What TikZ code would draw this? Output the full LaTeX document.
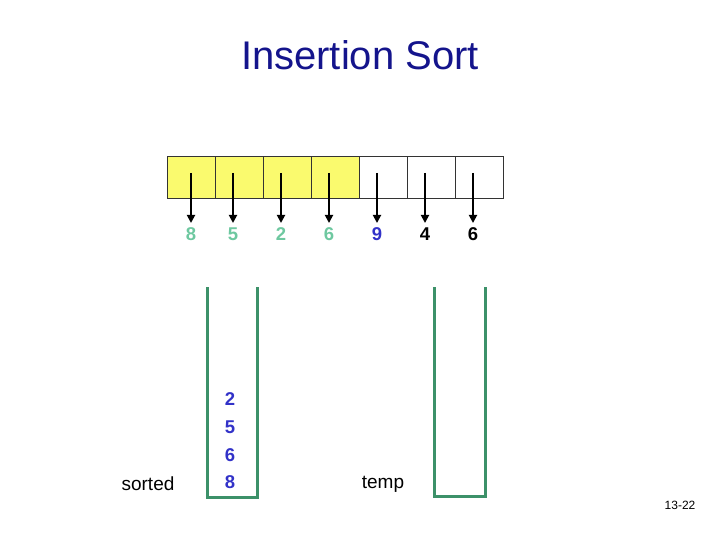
\documentclass[tikz,border=0pt]{standalone}
\usepackage{fontspec}
\setmainfont{Liberation Sans}
\usetikzlibrary{arrows.meta}
\definecolor{titleblue}{RGB}{20,20,140}
\definecolor{mint}{RGB}{110,200,160}
\definecolor{numblue}{RGB}{50,50,200}
\definecolor{stackgreen}{RGB}{60,145,105}
\definecolor{cellyellow}{RGB}{250,250,110}
\tikzset{
  cell/.style={draw=black!80, line width=0.8pt, minimum width=48pt, minimum height=42pt, inner sep=0pt, anchor=north west},
  ptr/.style={line width=1.8pt, -{Triangle[width=8pt,length=8pt]}},
  num/.style={font=\fontsize{18.5}{18.5}\selectfont\bfseries, inner sep=0pt},
  stackline/.style={draw=stackgreen, line width=3pt},
  lbl/.style={font=\fontsize{19}{19}\selectfont, inner sep=0pt}
}
\begin{document}
\begin{tikzpicture}[x=1pt,y=-1pt]
\useasboundingbox (0,0) rectangle (720,540);
\node[font=\fontsize{40}{40}\selectfont, text=titleblue, inner sep=0pt] (title) at (360,55) {Insertion Sort};
% cells
\node[cell, fill=cellyellow] (c1) at (167,156) {};
\node[cell, fill=cellyellow] (c2) at (215,156) {};
\node[cell, fill=cellyellow] (c3) at (263,156) {};
\node[cell, fill=cellyellow] (c4) at (311,156) {};
\node[cell, fill=white] (c5) at (359,156) {};
\node[cell, fill=white] (c6) at (407,156) {};
\node[cell, fill=white] (c7) at (455,156) {};
% numbers
\node[num, text=mint] (n1) at (191,234) {8};
\node[num, text=mint] (n2) at (233,234) {5};
\node[num, text=mint] (n3) at (281,234) {2};
\node[num, text=mint] (n4) at (329,234) {6};
\node[num, text=numblue] (n5) at (377,234) {9};
\node[num, text=black] (n6) at (425,234) {4};
\node[num, text=black] (n7) at (473,234) {6};
% arrow starts and ends
\foreach \i/\x in {1/191,2/233,3/281,4/329,5/377,6/425,7/473}{
  \coordinate (a\i) at (\x,173);
  \coordinate (t\i) at (\x,223);
  \draw[ptr] (a\i) -- (t\i);
}
% stacks
\coordinate (s1tl) at (207,287);
\coordinate (s1bl) at (207,497);
\coordinate (s1br) at (257,497);
\coordinate (s1tr) at (257,287);
\draw[stackline] (s1tl) -- (s1bl) -- (s1br) -- (s1tr);
\coordinate (s2tl) at (434,287);
\coordinate (s2bl) at (434,496);
\coordinate (s2br) at (485,496);
\coordinate (s2tr) at (485,287);
\draw[stackline] (s2tl) -- (s2bl) -- (s2br) -- (s2tr);
% stack contents
\node[num, text=numblue] (k1) at (230,399) {2};
\node[num, text=numblue] (k2) at (230,427) {5};
\node[num, text=numblue] (k3) at (230,455) {6};
\node[num, text=numblue] (k4) at (230,482) {8};
% labels
\node[lbl] (sorted) at (148,484) {sorted};
\node[lbl] (temp) at (383,484) {temp};
\node[font=\fontsize{12}{12}\selectfont, inner sep=0pt] (page) at (680,505) {13-22};
\end{tikzpicture}
\end{document}
